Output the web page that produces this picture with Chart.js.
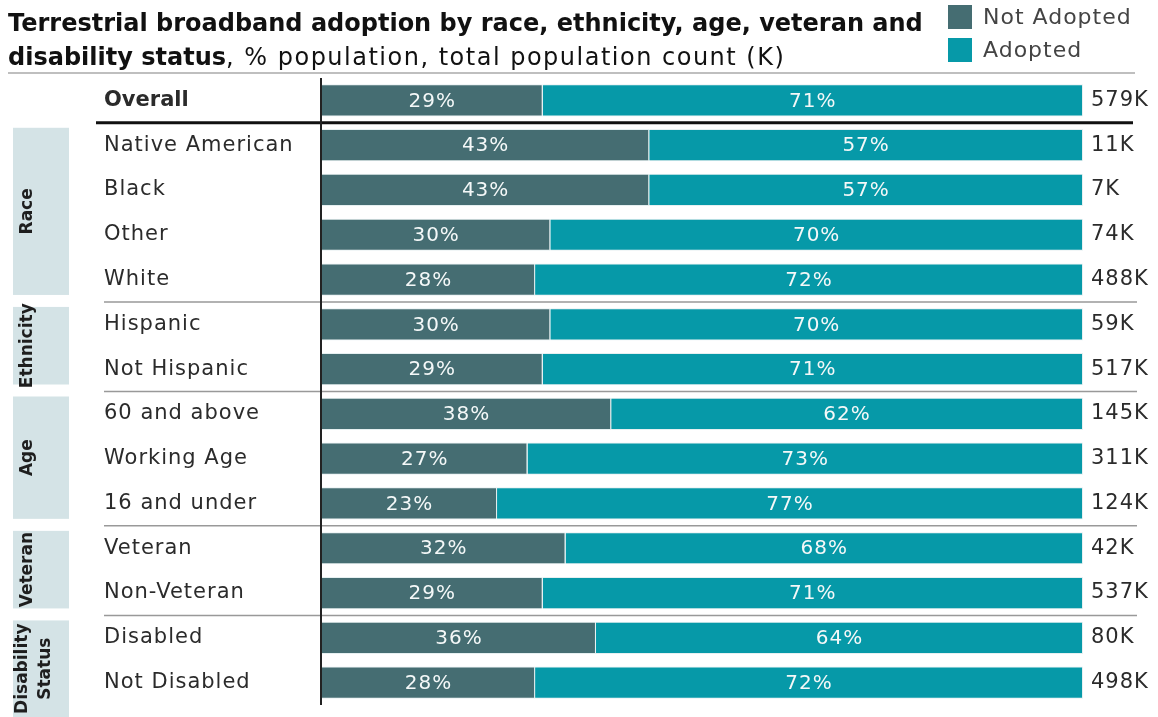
<!DOCTYPE html>
<html>
<head>
<meta charset="utf-8">
<title>Terrestrial broadband adoption</title>
<script src="https://cdn.jsdelivr.net/npm/chart.js@4.4.1/dist/chart.umd.min.js"></script>
<style>
  html, body { margin: 0; padding: 0; background: #fff; }
  #chart { display: block; }
</style>
</head>
<body>
<canvas id="chart" width="1158" height="717"></canvas>
<script>
const categories = ['Overall', 'Native American', 'Black', 'Other', 'White', 'Hispanic', 'Not Hispanic',
  '60 and above', 'Working Age', '16 and under', 'Veteran', 'Non-Veteran', 'Disabled', 'Not Disabled'];
const notAdopted = [29, 43, 43, 30, 28, 30, 29, 38, 27, 23, 32, 29, 36, 28];
const adopted = [71, 57, 57, 70, 72, 70, 71, 62, 73, 77, 68, 71, 64, 72];
const populationCounts = ['579K', '11K', '7K', '74K', '488K', '59K', '517K', '145K', '311K', '124K', '42K', '537K', '80K', '498K'];

// group name lines, first and last row index
const groups = [
  { name: ['Race'], first: 1, last: 4 },
  { name: ['Ethnicity'], first: 5, last: 6 },
  { name: ['Age'], first: 7, last: 9 },
  { name: ['Veteran'], first: 10, last: 11 },
  { name: ['Disability', 'Status'], first: 12, last: 13 }
];

const FONT = '"DejaVu Sans", "Open Sans", sans-serif';
const DARK_TEAL = '#456d72';
const TEAL = '#0699a8';
const TEXT = '#2b2b2b';

const decorations = {
  id: 'decorations',
  afterDatasetsDraw(chart) {
    const { ctx, chartArea } = chart;
    const y = chart.scales.y;
    const band = y.getPixelForValue(1) - y.getPixelForValue(0);
    ctx.save();

    // title
    ctx.fillStyle = '#111';
    ctx.textBaseline = 'alphabetic';
    ctx.textAlign = 'left';
    ctx.letterSpacing = '0px';
    ctx.font = 'bold 24px ' + FONT;
    ctx.fillText('Terrestrial broadband adoption by race, ethnicity, age, veteran and', 8, 31);
    ctx.fillText('disability status', 8, 65);
    const w = ctx.measureText('disability status').width;
    ctx.font = '24px ' + FONT;
    ctx.letterSpacing = '1.5px';
    ctx.fillText(', % population, total population count (K)', 8 + w, 65);

    // legend
    ctx.letterSpacing = '1px';
    chart.data.datasets.forEach((ds, i) => {
      ctx.fillStyle = ds.backgroundColor;
      ctx.fillRect(948, 5 + i * 33, 24, 24);
      ctx.fillStyle = '#444';
      ctx.font = '22px ' + FONT;
      ctx.textBaseline = 'middle';
      ctx.fillText(ds.label, 983, 18 + i * 33);
    });
    ctx.letterSpacing = '0px';

    // rule under the title
    ctx.strokeStyle = '#aaa';
    ctx.lineWidth = 1.5;
    ctx.beginPath();
    ctx.moveTo(8, 73);
    ctx.lineTo(1135, 73);
    ctx.stroke();

    // group boxes with rotated names
    groups.forEach((g, gi) => {
      const top = y.getPixelForValue(g.first) - band / 2 + 5;
      const isLast = gi === groups.length - 1;
      const bottom = isLast ? chart.height : y.getPixelForValue(g.last) + band / 2 - 7;
      ctx.fillStyle = '#d4e3e6';
      ctx.fillRect(13, top, 56, bottom - top);
      ctx.save();
      ctx.translate(19 - (g.name.length - 1) * 5, (top + bottom) / 2);
      ctx.rotate(-Math.PI / 2);
      ctx.fillStyle = '#1e1e1e';
      ctx.font = 'bold 17px ' + FONT;
      ctx.textAlign = 'center';
      ctx.textBaseline = 'top';
      g.name.forEach((line, k) => {
        ctx.fillText(line, 0, k * 23);
      });
      ctx.restore();

      // separator below each group except the last
      if (!isLast) {
        const sy = y.getPixelForValue(g.last) + band / 2;
        ctx.strokeStyle = '#999';
        ctx.lineWidth = 1.5;
        ctx.beginPath();
        ctx.moveTo(104, sy);
        ctx.lineTo(1137, sy);
        ctx.stroke();
      }
    });

    // heavy rule under the overall row
    const oy = y.getPixelForValue(0) + band / 2;
    ctx.strokeStyle = '#111';
    ctx.lineWidth = 3;
    ctx.beginPath();
    ctx.moveTo(96, oy);
    ctx.lineTo(1133, oy);
    ctx.stroke();

    // vertical axis line
    ctx.strokeStyle = '#222';
    ctx.lineWidth = 2;
    ctx.beginPath();
    ctx.moveTo(chartArea.left - 1, chartArea.top);
    ctx.lineTo(chartArea.left - 1, chartArea.bottom);
    ctx.stroke();

    // category labels and counts
    ctx.textBaseline = 'middle';
    categories.forEach((c, i) => {
      const py = y.getPixelForValue(i);
      ctx.fillStyle = TEXT;
      ctx.textAlign = 'left';
      ctx.letterSpacing = i === 0 ? '0px' : '1px';
      ctx.font = (i === 0 ? 'bold ' : '') + '21px ' + FONT;
      ctx.fillText(c, 104, py);
      ctx.letterSpacing = '1px';
      ctx.font = '21px ' + FONT;
      ctx.fillText(populationCounts[i], chartArea.right + 8, py);
    });

    // percentages inside segments
    ctx.fillStyle = '#f4f8f8';
    ctx.textAlign = 'center';
    ctx.font = '20px ' + FONT;
    chart.data.datasets.forEach((ds, di) => {
      chart.getDatasetMeta(di).data.forEach((bar, i) => {
        ctx.fillText(ds.data[i] + '%', (bar.x + bar.base) / 2, bar.y + 1);
      });
    });

    ctx.restore();
  }
};

new Chart(document.getElementById('chart'), {
  type: 'bar',
  data: {
    labels: categories,
    datasets: [
      { label: 'Not Adopted', data: notAdopted, backgroundColor: DARK_TEAL },
      { label: 'Adopted', data: adopted, backgroundColor: TEAL }
    ]
  },
  options: {
    indexAxis: 'y',
    responsive: false,
    animation: false,
    layout: { padding: { left: 322, right: 75, top: 78, bottom: 12 } },
    datasets: {
      bar: {
        barPercentage: 0.72,
        categoryPercentage: 1,
        borderWidth: 1,
        borderColor: '#e6f0f1'
      }
    },
    scales: {
      x: { stacked: true, min: 0, max: 100, display: false },
      y: { stacked: true, display: false }
    },
    plugins: {
      legend: { display: false },
      tooltip: { enabled: false }
    }
  },
  plugins: [decorations]
});
</script>
</body>
</html>
